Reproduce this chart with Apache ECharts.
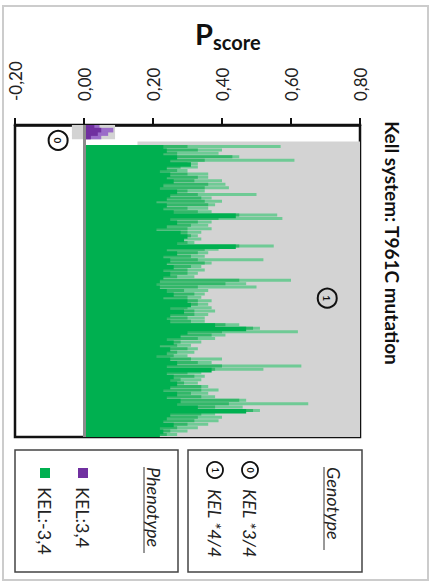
<!DOCTYPE html>
<html><head><meta charset="utf-8">
<script src="https://cdn.jsdelivr.net/npm/echarts@6/dist/echarts.min.js"></script>
<style>html,body{margin:0;padding:0;background:#fff}#c{width:432px;height:585px}</style>
</head><body><div id="c"></div>
<script>
// ---- data ----
const tickLabels = ['-0,20', '0,00', '0,20', '0,40', '0,60', '0,80'];

// genotype 0 (KEL*3/4) rows — phenotype KEL:3,4 (purple)
const purpleLight = [0.045, 0.085, 0.07, 0.05];
const purpleDark  = [0.03, 0.05, 0.04, 0.02];
const purpleGrayStart = [-0.035, -0.035, -0.035, -0.035];
const purpleGrayEnd   = [0.09, 0.09, 0.09, 0.09];

// separator rows between the two genotype groups
const gapGrayStart = [null, 0.155];
const gapGrayEnd   = [null, 0.8];

// genotype 1 (KEL*4/4) rows — phenotype KEL:-3,4 (green)
const greenLight = [0.57,0.40,0.39,0.45,0.61,0.33,0.33,0.30,0.36,0.36,0.40,0.41,0.42,0.35,0.50,0.37,0.40,0.38,0.36,0.37,
  0.56,0.575,0.37,0.36,0.37,0.34,0.33,0.34,0.32,0.55,0.39,0.36,0.35,0.52,0.37,0.34,0.35,0.33,0.32,0.60,
  0.47,0.50,0.36,0.35,0.34,0.37,0.36,0.37,0.38,0.36,0.35,0.35,0.45,0.51,0.62,0.41,0.38,0.34,0.31,0.33,
  0.32,0.30,0.40,0.37,0.63,0.52,0.34,0.35,0.34,0.33,0.36,0.39,0.36,0.38,0.47,0.65,0.46,0.51,0.38,0.40,
  0.39,0.36,0.33,0.30,0.27];
const greenMid = [0.30,0.33,0.27,0.43,0.35,0.30,0.28,0.27,0.30,0.33,0.32,0.36,0.35,0.30,0.33,0.34,0.35,0.36,0.30,0.33,
  0.45,0.39,0.33,0.31,0.30,0.30,0.31,0.29,0.30,0.45,0.35,0.33,0.31,0.33,0.35,0.31,0.30,0.30,0.27,0.45,
  0.41,0.33,0.29,0.32,0.30,0.33,0.33,0.30,0.32,0.32,0.30,0.31,0.41,0.49,0.40,0.37,0.33,0.28,0.27,0.30,
  0.27,0.26,0.31,0.33,0.40,0.38,0.30,0.32,0.28,0.29,0.34,0.34,0.31,0.34,0.45,0.42,0.38,0.49,0.34,0.33,
  0.32,0.30,0.27,0.25,0.24];
const greenDark = [0.23,0.24,0.23,0.27,0.25,0.31,0.24,0.22,0.25,0.24,0.26,0.23,0.22,0.27,0.25,0.24,0.21,0.24,0.23,0.26,
  0.44,0.25,0.27,0.24,0.21,0.28,0.30,0.29,0.27,0.44,0.24,0.27,0.23,0.25,0.24,0.26,0.23,0.25,0.23,0.22,
  0.21,0.22,0.24,0.26,0.23,0.30,0.31,0.25,0.29,0.25,0.24,0.25,0.38,0.47,0.30,0.28,0.24,0.26,0.22,0.25,
  0.24,0.21,0.25,0.27,0.24,0.37,0.24,0.26,0.25,0.27,0.25,0.23,0.27,0.24,0.28,0.27,0.33,0.47,0.25,0.24,
  0.23,0.26,0.22,0.23,0.22];
const greenGrayStart = greenLight.map(() => 0);
const greenGrayEnd = [0.8,0.8,0.8,0.8,0.8,0.8,0.8,0.8,0.8,0.8,0.8,0.8,0.8,0.8,0.8,0.8,0.8,0.8,0.8,0.8,
  0.8,0.8,0.8,0.8,0.8,0.8,0.8,0.8,0.8,0.8,0.8,0.8,0.8,0.8,0.8,0.8,0.8,0.8,0.8,0.8,
  0.8,0.8,0.8,0.8,0.8,0.8,0.8,0.8,0.8,0.8,0.8,0.8,0.8,0.8,0.8,0.8,0.8,0.8,0.8,0.8,
  0.8,0.8,0.8,0.8,0.8,0.8,0.8,0.8,0.8,0.8,0.8,0.8,0.8,0.8,0.8,0.8,0.8,0.8,0.8,0.8,
  0.8,0.8,0.8,0.8,0.8];

// ---- build ----
const nP = purpleDark.length, nGap = gapGrayEnd.length, nG = greenDark.length;
const categories = Array.from({length: nP + nGap + nG}, (_, i) => 'r' + (i + 1));
const blank = n => Array.from({length: n}, () => null);
const grayStart = [...purpleGrayStart, ...gapGrayStart, ...greenGrayStart];
const grayEnd = [...purpleGrayEnd, ...gapGrayEnd, ...greenGrayEnd];
const grayLen = grayEnd.map((e, i) => e == null ? null : +(e - grayStart[i]).toFixed(4));

const FONT = 'Lato, "Open Sans", sans-serif';
// solid bars slightly thicker than a row so neighbouring rows overlap (no hairline seams)
const barBase = {type: 'bar', barGap: '-100%', barWidth: 4.6, silent: true, animation: false};

const chart = echarts.init(document.getElementById('c'), null, {renderer: 'svg'});
const rotText = (x, y, text, extra) => ({
  type: 'text', x, y, rotation: -Math.PI / 2,
  style: Object.assign({text, align: 'left', verticalAlign: 'middle', fill: '#222', fontFamily: FONT, fontSize: 18}, extra || {})
});

chart.setOption({
  animation: false,
  backgroundColor: '#fff',
  grid: {left: 15, right: 72, top: 125, bottom: 148, show: true, borderColor: '#111', borderWidth: 2.5, backgroundColor: 'transparent'},
  xAxis: {
    type: 'value', position: 'top', min: -0.2, max: 0.8, interval: 0.2,
    axisLine: {show: true, lineStyle: {color: '#111', width: 2.5}},
    axisTick: {show: true, length: 7, lineStyle: {color: '#111', width: 2}},
    splitLine: {show: false},
    axisLabel: {
      rotate: -90, margin: 24, fontSize: 17, color: '#222', fontFamily: FONT,
      formatter: v => tickLabels[Math.round((v + 0.2) / 0.2)]
    }
  },
  yAxis: {
    type: 'category', inverse: true, data: categories,
    axisLine: {show: false}, axisTick: {show: false}, axisLabel: {show: false}, splitLine: {show: false}
  },
  series: [
    Object.assign({}, barBase, {name: 'grayBase', stack: 'g', stackStrategy: 'all', data: grayStart, itemStyle: {color: 'none', opacity: 0}}),
    Object.assign({}, barBase, {name: 'range', stack: 'g', stackStrategy: 'all', data: grayLen, itemStyle: {color: '#d3d3d3'}}),
    Object.assign({}, barBase, {name: 'lightGreen', barWidth: 3, data: [...blank(nP + nGap), ...greenLight], itemStyle: {color: '#6fca95'}}),
    Object.assign({}, barBase, {name: 'midGreen', barWidth: 3, data: [...blank(nP + nGap), ...greenMid], itemStyle: {color: '#33b769'}}),
    Object.assign({}, barBase, {name: 'KEL:-3,4', data: [...blank(nP + nGap), ...greenDark], itemStyle: {color: '#00b050'},
      markLine: {silent: true, symbol: 'none', label: {show: false}, data: [{xAxis: 0}], lineStyle: {color: '#8c8c8c', width: 3, type: 'solid'}},
      markPoint: {
        symbol: 'circle', symbolSize: 19,
        itemStyle: {color: 'rgba(0,0,0,0)', borderColor: '#111', borderWidth: 2},
        label: {show: true, position: 'inside', formatter: p => p.name, rotate: -90, fontSize: 10, fontWeight: 'bold', color: '#111', fontFamily: FONT},
        data: [{name: '0', coord: [-0.075, categories[4]]}, {name: '1', coord: [0.705, categories[50]]}]
      }
    }),
    Object.assign({}, barBase, {name: 'purpleLight', data: [...purpleLight, ...blank(nGap + nG)], itemStyle: {color: '#9b6cc9'}}),
    Object.assign({}, barBase, {name: 'KEL:3,4', data: [...purpleDark, ...blank(nGap + nG)], itemStyle: {color: '#7030a0'}})
  ],
  graphic: [
    {type: 'rect', shape: {x: 3, y: 6, width: 425, height: 574}, style: {fill: 'none', stroke: '#cccccc', lineWidth: 2}, silent: true},
    {type: 'text', x: 195, y: 19, style: {text: 'P', fontSize: 29, fontWeight: 'bold', fill: '#111', fontFamily: FONT, align: 'left', verticalAlign: 'top'}},
    {type: 'text', x: 213, y: 32, style: {text: 'score', fontSize: 20, fontWeight: 'bold', fill: '#111', fontFamily: FONT, align: 'left', verticalAlign: 'top'}},
    {type: 'text', x: 392, y: 243, rotation: -Math.PI / 2,
      style: {text: 'Kell system: T961C mutation', align: 'center', verticalAlign: 'middle', fontSize: 19, fontWeight: 'bold', fill: '#111', fontFamily: FONT}},
    // Genotype legend
    {type: 'rect', shape: {x: 188, y: 450, width: 174, height: 122}, style: {fill: 'none', stroke: '#444', lineWidth: 1.5}},
    rotText(334, 467, 'Genotype', {fontStyle: 'italic'}),
    {type: 'line', shape: {x1: 324, y1: 467, x2: 324, y2: 550}, style: {stroke: '#333', lineWidth: 1}},
    {type: 'circle', shape: {cx: 250, cy: 470, r: 8}, style: {fill: 'none', stroke: '#111', lineWidth: 1.8}},
    {type: 'text', x: 250, y: 470, rotation: -Math.PI / 2, style: {text: '0', align: 'center', verticalAlign: 'middle', fontSize: 9, fontWeight: 'bold', fill: '#111', fontFamily: FONT}},
    {type: 'circle', shape: {cx: 215, cy: 470, r: 8}, style: {fill: 'none', stroke: '#111', lineWidth: 1.8}},
    {type: 'text', x: 215, y: 470, rotation: -Math.PI / 2, style: {text: '1', align: 'center', verticalAlign: 'middle', fontSize: 9, fontWeight: 'bold', fill: '#111', fontFamily: FONT}},
    rotText(250, 489, 'KEL *3/4', {fontStyle: 'italic'}),
    rotText(215, 489, 'KEL *4/4', {fontStyle: 'italic'}),
    // Phenotype legend
    {type: 'rect', shape: {x: 15, y: 450, width: 163, height: 122}, style: {fill: 'none', stroke: '#444', lineWidth: 1.5}},
    rotText(154, 467, 'Phenotype', {fontStyle: 'italic'}),
    {type: 'line', shape: {x1: 144, y1: 467, x2: 144, y2: 553}, style: {stroke: '#333', lineWidth: 1}},
    {type: 'rect', shape: {x: 78, y: 468, width: 10, height: 10}, style: {fill: '#7030a0'}},
    rotText(83, 487, 'KEL:3,4'),
    {type: 'rect', shape: {x: 40, y: 468, width: 10, height: 10}, style: {fill: '#00b050'}},
    rotText(45, 487, 'KEL:-3,4')
  ]
});
</script>
</body></html>
